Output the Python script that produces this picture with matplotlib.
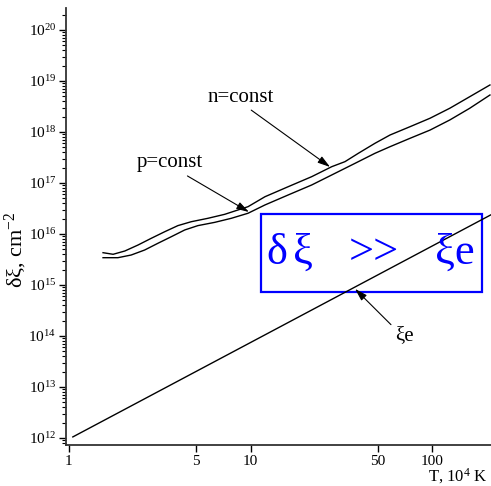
import numpy as np
import matplotlib
matplotlib.use("Agg")
import matplotlib.pyplot as plt
from matplotlib.patches import Rectangle

plt.rcParams['font.family'] = ['Liberation Serif', 'DejaVu Serif']
plt.rcParams['mathtext.fontset'] = 'custom'
plt.rcParams['mathtext.rm'] = 'Liberation Serif'
plt.rcParams['mathtext.it'] = 'Liberation Serif:italic'

# temperature, 10^4 K
T_n = [1.54, 1.75, 2.03, 2.40, 2.84, 3.37, 3.98, 4.71, 5.82, 7.20, 8.53, 9.68, 12.0,
       16.1, 21.7, 28.0, 33.1, 39.2, 48.4, 58.6, 75.5, 97.3, 125, 161, 208]
# n = const
xi_n = [4.30e15, 4.00e15, 4.64e15, 6.08e15, 8.24e15, 1.11e16, 1.46e16, 1.74e16, 2.03e16,
        2.43e16, 2.96e16, 3.43e16, 5.38e16, 8.45e16, 1.33e17, 2.09e17, 2.62e17, 3.82e17,
        6.00e17, 8.73e17, 1.27e18, 1.86e18, 2.92e18, 4.92e18, 8.35e18]

T_p = [1.54, 1.86, 2.20, 2.61, 3.09, 3.66, 4.34, 5.13, 6.34, 7.83, 9.68, 12.0, 16.1,
       21.7, 29.2, 37.6, 48.4, 58.6, 75.5, 97.3, 125, 161, 208]
# p = const
xi_p = [3.43e15, 3.43e15, 3.87e15, 4.85e15, 6.58e15, 8.85e15, 1.20e16, 1.46e16, 1.69e16,
        2.03e16, 2.55e16, 3.71e16, 5.82e16, 9.14e16, 1.55e17, 2.43e17, 3.82e17, 5.15e17,
        7.52e17, 1.09e18, 1.72e18, 2.92e18, 5.31e18]

# xi_e, straight line in log-log
T_e = [1.05, 214]
xi_e = [1.05e12, 2.45e16]

xticks = [1, 5, 10, 50, 100]
yticks = [1e12, 1e13, 1e14, 1e15, 1e16, 1e17, 1e18, 1e19, 1e20]

fig = plt.figure(figsize=(4.91, 4.86), dpi=100)
ax = fig.add_axes([66/491, 1 - 445.3/486, 425/491, 437.3/486])

ax.plot(T_n, xi_n, color='black', lw=1.0)
ax.plot(T_p, xi_p, color='black', lw=1.0)
ax.plot(T_e, xi_e, color='black', lw=1.0)

ax.set_xscale('log')
ax.set_yscale('log')
ax.set_xlim(0.963, 210.8)
ax.set_ylim(10**11.857, 10**20.431)

ax.set_xticks(xticks)
ax.set_xticklabels([str(t) for t in xticks], fontsize=11)
ax.xaxis.set_minor_locator(matplotlib.ticker.NullLocator())
ax.set_yticks(yticks)
ax.set_yticklabels(['10$^{%d}$' % int(np.log10(v)) for v in yticks], fontsize=11)
ax.yaxis.set_minor_locator(matplotlib.ticker.LogLocator(base=10, subs=np.arange(2, 10), numticks=20))
ax.yaxis.set_minor_formatter(matplotlib.ticker.NullFormatter())

ax.tick_params(axis='both', which='major', direction='out', length=5, width=1, pad=2)
ax.tick_params(axis='y', which='minor', direction='out', length=3, width=0.8)
for s in ['top', 'right']:
    ax.spines[s].set_visible(False)
for s in ['left', 'bottom']:
    ax.spines[s].set_linewidth(1.3)
    ax.spines[s].set_color('#333333')

# axis labels
fig.text(16/491, 1 - 250/486, 'δξ, cm$^{-2}$', rotation=90, fontsize=16,
         ha='center', va='center')
fig.text(487/491, 1 - 476/486, 'T, 10$^4$ K', fontsize=12, ha='right', va='center')

arr = dict(arrowstyle='-|>,head_length=0.5,head_width=0.15', color='black', lw=0.8,
           shrinkA=1, shrinkB=0)
ax.annotate('n=const', xy=(27.4, 2.06e17), xytext=(8.85, 4.85e18), fontsize=15,
            ha='center', va='center',
            arrowprops=dict(arr, relpos=(0.58, 0.0)))
ax.annotate('p=const', xy=(9.8, 2.7e16), xytext=(3.58, 2.47e17), fontsize=15,
            ha='center', va='center',
            arrowprops=dict(arr, relpos=(0.68, 0.0)))
ax.annotate('ξe', xy=(37.6, 8.4e14), xytext=(70, 1.0e14), fontsize=15,
            ha='center', va='center',
            arrowprops=dict(arr, relpos=(0.0, 0.9)))

# blue inequality box
ax.add_patch(Rectangle((0.459, 0.3506), 0.52, 0.1784, transform=ax.transAxes,
                       fill=False, edgecolor='#0000ff', lw=1.6, zorder=1))
for txt, xp in [('δ', 277), ('ξ', 303), ('>>', 374), ('ξe', 455)]:
    fig.text(xp/491, 1 - 253/486, txt, color='#0000ff', fontsize=32,
             ha='center', va='center')

plt.savefig('out.png', dpi=100)
